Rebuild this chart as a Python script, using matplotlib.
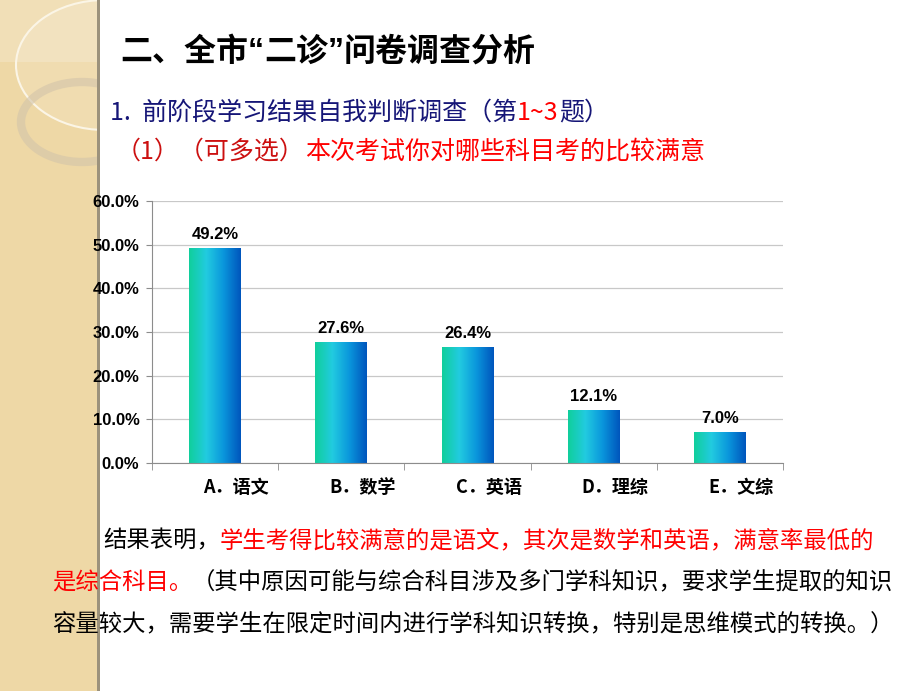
import matplotlib
matplotlib.use('Agg')
import matplotlib.pyplot as plt
import numpy as np
from matplotlib.patches import Ellipse, Rectangle
from matplotlib.colors import LinearSegmentedColormap
from matplotlib.transforms import ScaledTranslation

# data
categories = ['A．语文', 'B．数学', 'C．英语', 'D．理综', 'E．文综']
values = [49.2, 27.6, 26.4, 12.1, 7.0]
yticks = [0, 10, 20, 30, 40, 50, 60]

title = [('二、全市', '#000000'), ('“', '#000000'), ('二诊', '#000000'), ('”', '#000000'),
         ('问卷调查分析', '#000000')]
sub1 = [('1.  前阶段学习结果自我判断调查（第', '#161677'), ('1~3', '#ff0000'), ('题）', '#161677')]
sub2 = [('（1）（可多选）', '#cc1010'), ('本次考试你对哪些科目考的比较满意', '#ff0000')]
para = [
    (103, 541, [('结果表明，', '#000000'),
                ('学生考得比较满意的是语文，其次是数学和英语，满意率最低的', '#ff0000')]),
    (52, 583, [('是综合科目。', '#ff0000'),
               ('（其中原因可能与综合科目涉及多门学科知识，要求学生提取的知识', '#000000')]),
    (52, 625, [('容量较大，需要学生在限定时间内进行学科知识转换，特别是思维模式的转换。）', '#000000')]),
]

W, H = 920, 691
plt.rcParams['font.family'] = ['Noto Sans CJK SC', 'DejaVu Sans']
fig = plt.figure(figsize=(9.2, 6.91), dpi=100)
renderer = fig.canvas.get_renderer()

# left decorative stripe
deco = fig.add_axes([0, 0, 100 / W, 1])
deco.set_xlim(0, 100)
deco.set_ylim(H, 0)
deco.axis('off')
deco.add_patch(Rectangle((0, 0), 100, H, facecolor='#eed8a6', edgecolor='none'))
deco.add_patch(Rectangle((0, 0), 100, 62, facecolor='white', alpha=0.2, edgecolor='none'))
deco.add_patch(Ellipse((105, 65), 178, 130, facecolor='white', alpha=0.12, edgecolor='none'))
deco.add_patch(Ellipse((105, 65), 178, 130, facecolor='none', edgecolor='#fbf5e6', lw=1.5))
deco.add_patch(Ellipse((82, 122), 122, 80, facecolor='none', edgecolor='#d2c4aa', lw=6, alpha=0.6))
deco.add_patch(Rectangle((97.5, 0), 2.5, H, facecolor='#9c927c', edgecolor='none'))


def line(x, y, parts, size, weight='normal'):
    for s, c in parts:
        fam = ['Liberation Sans'] if s in '“”' else None
        t = fig.text(x / W, 1 - y / H, s, color=c, fontsize=size, fontweight=weight,
                     ha='left', va='center', family=fam)
        x += t.get_window_extent(renderer).width


line(120, 52, title, 23, 'heavy')
line(110, 113, sub1, 18)
line(116, 152, sub2, 18)
for x0, y0, parts in para:
    line(x0, y0, parts, 16.8)

# chart
ax = fig.add_axes([152 / W, 1 - 463 / H, (783 - 152) / W, (463 - 201) / H])
cmap = LinearSegmentedColormap.from_list('bar', ['#10cf9c', '#22cbe0', '#0a96dc', '#0056bd'])
grad = np.linspace(0, 1, 64).reshape(1, -1)
bw = 0.41
for i, v in enumerate(values):
    ax.imshow(grad, cmap=cmap, extent=(i - bw / 2, i + bw / 2, 0, v), aspect='auto',
              interpolation='bicubic', zorder=2)
    ax.text(i, v + 1.5, f'{v:.1f}%', ha='center', va='bottom', fontsize=12,
            fontweight='bold', family=['Liberation Sans'])

ax.set_xlim(-0.5, len(values) - 0.5)
ax.set_ylim(0, 60)
ax.set_yticks(yticks)
ax.set_yticklabels([f'{t:.1f}%' for t in yticks], fontweight='bold', fontsize=12,
                   family=['Liberation Sans'])
ax.set_xticks(range(len(categories)))
ax.set_xticklabels(categories, fontweight='bold', fontsize=13)
ax.set_xticks(np.arange(-0.5, len(categories), 1), minor=True)
ax.tick_params(axis='x', which='major', length=0, pad=11)
ax.tick_params(axis='x', which='minor', length=5, color='#8c8c8c', direction='out')
ax.tick_params(axis='y', length=4, color='#8c8c8c', direction='out', pad=5)
offset = ScaledTranslation(0.21, 0, fig.dpi_scale_trans)
for lab in ax.get_xticklabels():
    lab.set_transform(lab.get_transform() + offset)

ax.yaxis.grid(True, color='#c8c8c8', lw=0.9)
ax.set_axisbelow(True)
for s in ['top', 'right']:
    ax.spines[s].set_visible(False)
for s in ['left', 'bottom']:
    ax.spines[s].set_color('#8c8c8c')

fig.savefig('out.png', dpi=100)
